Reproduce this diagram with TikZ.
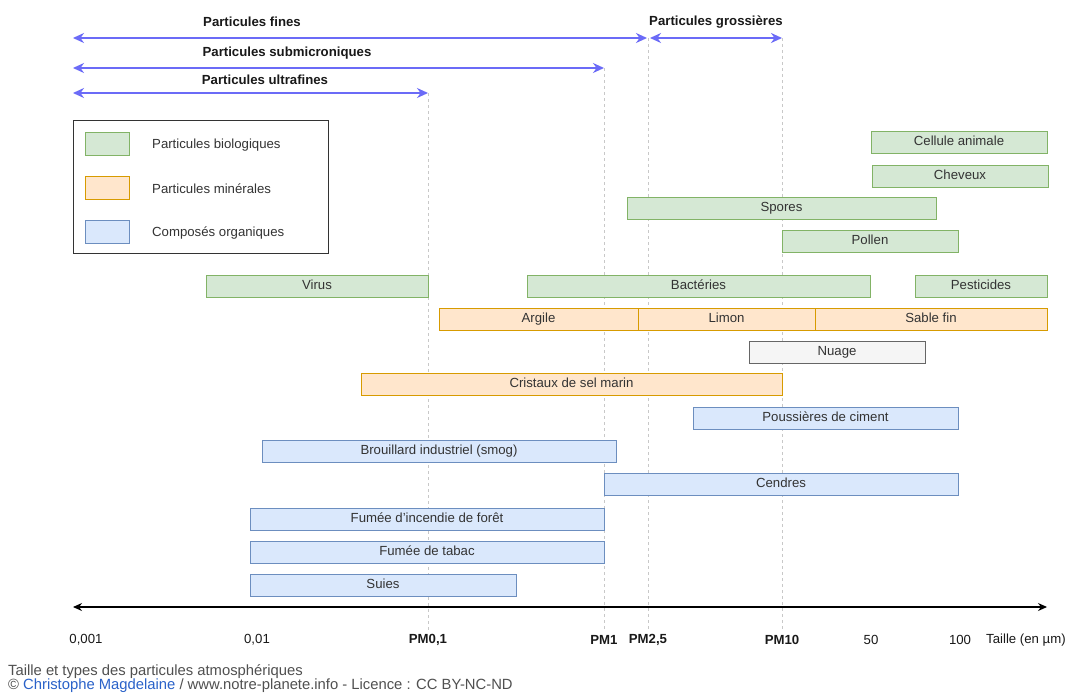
\documentclass[tikz,border=0pt]{standalone}
\usepackage{fontspec}
\setmainfont{Liberation Sans}
\usetikzlibrary{arrows.meta}
\definecolor{gfill}{HTML}{D5E8D4}\definecolor{gline}{HTML}{82B366}
\definecolor{ofill}{HTML}{FFE6CC}\definecolor{oline}{HTML}{D79B00}
\definecolor{bfill}{HTML}{DAE8FC}\definecolor{bline}{HTML}{6C8EBF}
\definecolor{nfill}{HTML}{F5F5F5}\definecolor{nline}{HTML}{666666}
\definecolor{arrblue}{HTML}{6B6BF7}
\definecolor{txt}{HTML}{333333}
\definecolor{capgrey}{HTML}{505050}
\definecolor{linkblue}{HTML}{2A62C9}
\definecolor{gridgrey}{HTML}{C8C8C8}
\newcommand{\bx}[7]{\node[#6, minimum width={(#4-#2)*1pt}, minimum height={(#5-#3)*1pt}] (#1) at ({(#2+#4)/2},{(#3+#5)/2}) {#7};}
\tikzset{
  boxbase/.style={draw, line width=0.8pt, inner sep=0pt, font=\fontsize{13.2}{15}\selectfont, text=txt, text height=9.5pt, text depth=2.8pt},
  biobox/.style={boxbase, fill=gfill, draw=gline},
  minebox/.style={boxbase, fill=ofill, draw=oline},
  orgabox/.style={boxbase, fill=bfill, draw=bline},
  greybox/.style={boxbase, fill=nfill, draw=nline},
  rangearrow/.style={draw=arrblue, line width=1.8pt, {Stealth[length=11pt,width=10pt]}-{Stealth[length=11pt,width=10pt]}},
  headlbl/.style={font=\fontsize{13.2}{15}\selectfont\bfseries, text=black!90, inner sep=0pt},
  gridline/.style={draw=gridgrey, dash pattern=on 3pt off 3pt, line width=0.7pt},
  ticklbl/.style={font=\fontsize{13.2}{15}\selectfont, text=black!90, inner sep=0pt},
  ticklblb/.style={ticklbl, font=\fontsize{13.2}{15}\selectfont\bfseries},
  legtxt/.style={font=\fontsize{13.2}{15}\selectfont, text=txt, inner sep=0pt, anchor=west},
  captxt/.style={font=\fontsize{14.8}{17}\selectfont, text=capgrey, inner sep=0pt, anchor=west}
}
\begin{document}
\begin{tikzpicture}[x=1pt,y=-1pt]
\useasboundingbox (0,0) rectangle (1067,693);
\fill[white] (0,0) rectangle (1067,693);
% grid lines
\foreach \n/\x/\t in {g01/428/93, g1/604/68, g25/648/38, g10/782/38}{
  \coordinate (\n t) at (\x,\t);
  \coordinate (\n b) at (\x,630);
  \draw[gridline] (\n t) -- (\n b);
}
% range arrows
\coordinate (rL1) at (73,38); \coordinate (rR1) at (647,38);
\coordinate (rL2) at (650,38); \coordinate (rR2) at (782,38);
\coordinate (rL3) at (73,68); \coordinate (rR3) at (604,68);
\coordinate (rL4) at (73,93); \coordinate (rR4) at (428,93);
\draw[rangearrow] (rL1) -- (rR1);
\draw[rangearrow] (rL2) -- (rR2);
\draw[rangearrow] (rL3) -- (rR3);
\draw[rangearrow] (rL4) -- (rR4);
\node[headlbl] (hfines) at (252,22) {Particules fines};
\node[headlbl] (hgros) at (716,22) {Particules grossières};
\node[headlbl] (hsub) at (287,53) {Particules submicroniques};
\node[headlbl] (hultra) at (265,80) {Particules ultrafines};
% legend
\node[draw=black!80, line width=0.9pt, minimum width=255pt, minimum height=133pt, inner sep=0pt] (legend) at (200.5,186.5) {};
\bx{lg}{85}{132}{129}{155}{biobox}{}
\bx{lo}{85}{176}{129}{199}{minebox}{}
\bx{lb}{85}{220}{129}{243}{orgabox}{}
\node[legtxt] (lgt) at (152,145) {Particules biologiques};
\node[legtxt] (lot) at (152,189) {Particules minérales};
\node[legtxt] (lbt) at (152,233) {Composés organiques};
% boxes
\bx{cell}{871}{131}{1047}{153}{biobox}{Cellule animale}
\bx{chev}{872}{165}{1048}{187}{biobox}{Cheveux}
\bx{spores}{627}{197}{936}{219}{biobox}{Spores}
\bx{pollen}{782}{230}{958}{252}{biobox}{Pollen}
\bx{virus}{206}{275}{428}{297}{biobox}{Virus}
\bx{bact}{527}{275}{870}{297}{biobox}{Bactéries}
\bx{pest}{915}{275}{1047}{297}{biobox}{Pesticides}
\bx{argile}{439}{308}{638}{330}{minebox}{Argile}
\bx{limon}{638}{308}{815}{330}{minebox}{Limon}
\bx{sable}{815}{308}{1047}{330}{minebox}{Sable fin}
\bx{nuage}{749}{341}{925}{363}{greybox}{Nuage}
\bx{sel}{361}{373}{782}{395}{minebox}{Cristaux de sel marin}
\bx{ciment}{693}{407}{958}{429}{orgabox}{Poussières de ciment}
\bx{smog}{262}{440}{616}{462}{orgabox}{Brouillard industriel (smog)}
\bx{cendres}{604}{473}{958}{495}{orgabox}{Cendres}
\bx{foret}{250}{508}{604}{530}{orgabox}{Fumée d'incendie de forêt}
\bx{tabac}{250}{541}{604}{563}{orgabox}{Fumée de tabac}
\bx{suies}{250}{574}{516}{596}{orgabox}{Suies}
% axis
\coordinate (axL) at (73,607); \coordinate (axR) at (1047,607);
\draw[line width=1.1pt, {Stealth[length=9pt,width=8pt]}-{Stealth[length=9pt,width=8pt]}] (axL) -- (axR);
\node[ticklbl] (t0) at (86,640) {0,001};
\node[ticklbl] (t1) at (257,640) {0,01};
\node[ticklblb] (t2) at (428,640) {PM0,1};
\node[ticklblb] (t3) at (604,640) {PM1};
\node[ticklblb] (t4) at (648,640) {PM2,5};
\node[ticklblb] (t5) at (782,640) {PM10};
\node[ticklbl] (t6) at (871,640) {50};
\node[ticklbl] (t7) at (960,640) {100};
\node[ticklbl, anchor=west] (t8) at (986,640) {Taille (en µm)};
% caption
\node[captxt] (cap1) at (8,672) {Taille et types des particules atmosphériques};
\node[captxt] (cap2) at (8,686) {© \textcolor{linkblue}{Christophe Magdelaine} / www.notre-planete.info - Licence : CC BY-NC-ND};
\end{tikzpicture}
\end{document}
